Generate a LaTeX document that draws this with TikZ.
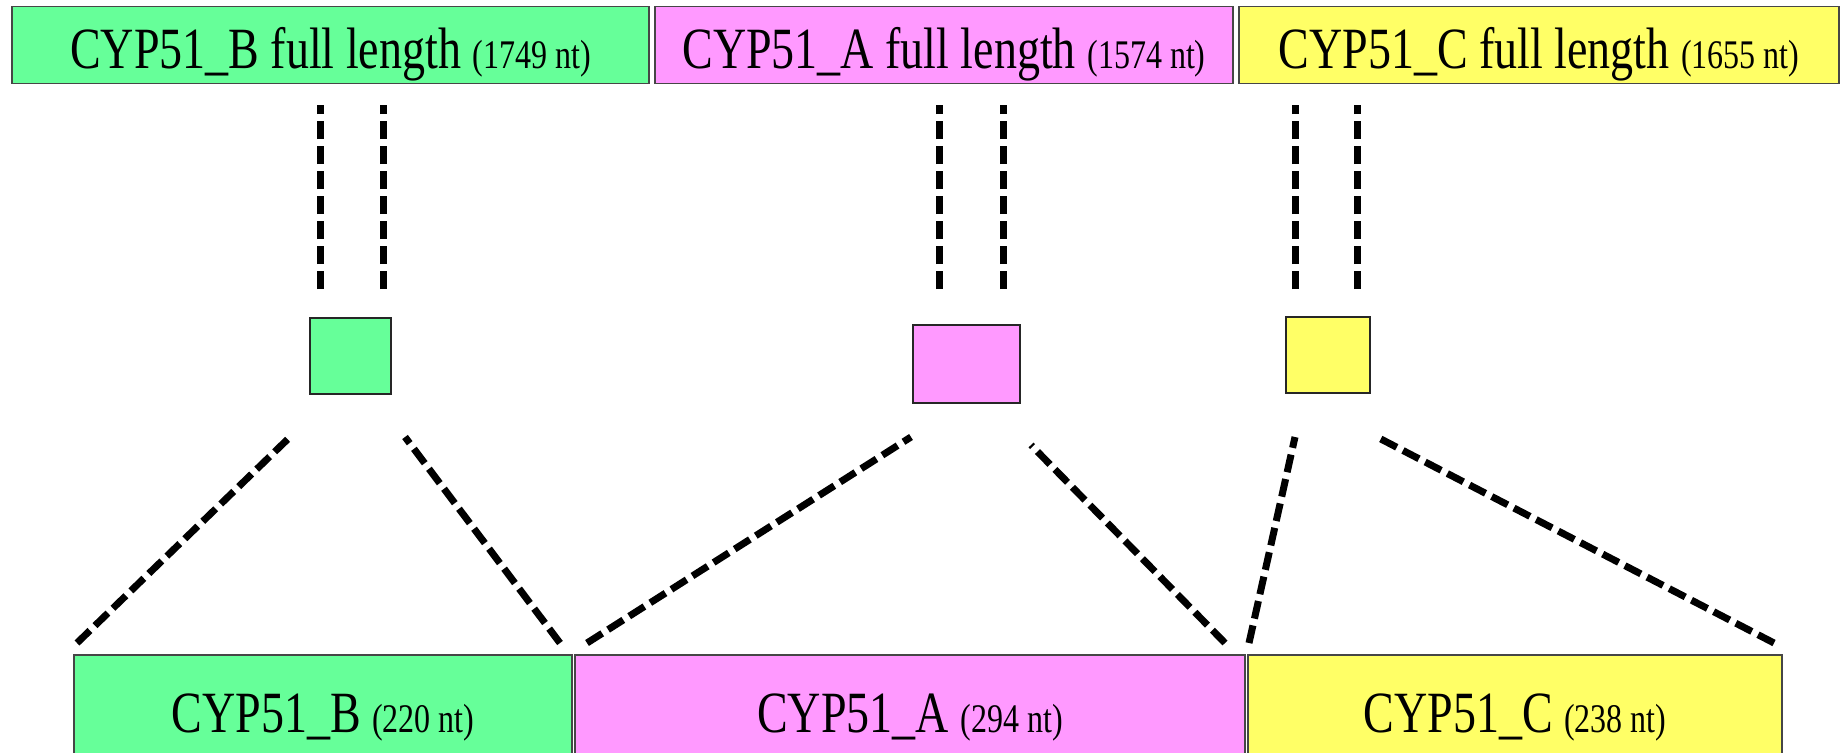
\documentclass[tikz,border=0pt]{standalone}
\usepackage{fontspec}
\setmainfont{Liberation Serif}
\definecolor{cgreen}{RGB}{102,255,153}
\definecolor{cpink}{RGB}{255,153,255}
\definecolor{cyellow}{RGB}{255,255,102}
\definecolor{edgegray}{RGB}{70,70,70}
\tikzset{
  seqbox/.style={draw=edgegray, line width=1.8pt, inner sep=0pt},
  regionbox/.style={draw=black!85, line width=1.4pt, inner sep=0pt},
  seqlabel/.style={inner sep=0pt, anchor=base, font=\fontsize{46}{50}\selectfont},
  linker/.style={line width=7pt, dash pattern=on 18pt off 7pt}
}
% tall, narrow lettering
\newcommand{\tall}[1]{\scalebox{1}[1.27]{#1}}
\newcommand{\ntlen}[1]{{\fontsize{32}{36}\selectfont(#1~nt)}}
\begin{document}
\begin{tikzpicture}[x=1pt,y=-1pt]
\useasboundingbox (0,0) rectangle (1841,752);
\clip (0,0) rectangle (1841,752);

% full-length transcripts
\node[seqbox, fill=cgreen, minimum width=637pt, minimum height=77pt] (fullB) at (330.5,45) {};
\node[seqbox, fill=cpink, minimum width=578pt, minimum height=77pt] (fullA) at (944,45) {};
\node[seqbox, fill=cyellow, minimum width=600pt, minimum height=77pt] (fullC) at (1539,45) {};
\node[seqlabel] (fullBtxt) at (330.5,68) {\tall{CYP51\_B full length \ntlen{1749}}};
\node[seqlabel] (fullAtxt) at (944,68) {\tall{CYP51\_A full length \ntlen{1574}}};
\node[seqlabel] (fullCtxt) at (1539,68) {\tall{CYP51\_C full length \ntlen{1655}}};

% amplified regions
\node[regionbox, fill=cgreen, minimum width=81pt, minimum height=76pt] (regB) at (350.5,356) {};
\node[regionbox, fill=cpink, minimum width=107pt, minimum height=78pt] (regA) at (966.5,364) {};
\node[regionbox, fill=cyellow, minimum width=84pt, minimum height=76pt] (regC) at (1328,355) {};

% amplicons
\node[seqbox, fill=cgreen, minimum width=498pt, minimum height=115pt] (ampB) at (323,712.5) {};
\node[seqbox, fill=cpink, minimum width=670pt, minimum height=115pt] (ampA) at (910,712.5) {};
\node[seqbox, fill=cyellow, minimum width=534pt, minimum height=115pt] (ampC) at (1515,712.5) {};
\node[seqlabel] (ampBtxt) at (323,732) {\tall{CYP51\_B \ntlen{220}}};
\node[seqlabel] (ampAtxt) at (910,732) {\tall{CYP51\_A \ntlen{294}}};
\node[seqlabel] (ampCtxt) at (1515,732) {\tall{CYP51\_C \ntlen{238}}};

% vertical guides from full length to region
\foreach \n/\x in {b1/320, b2/383, a1/939, a2/1003, c1/1295, c2/1357} {
  \coordinate (vt\n) at (\x,105);
  \coordinate (vb\n) at (\x,289);
  \draw[linker] (vb\n) -- (vt\n);
}

% expanding guides from region to amplicon
\coordinate (sBl) at (291,436);  \coordinate (eBl) at (77,643);
\coordinate (sBr) at (405,437);  \coordinate (eBr) at (560,643);
\coordinate (sAl) at (911,437);  \coordinate (eAl) at (587,643);
\coordinate (sAr) at (1031,445); \coordinate (eAr) at (1225,643);
\coordinate (sCl) at (1295,437); \coordinate (eCl) at (1249,643);
\coordinate (sCr) at (1377,437); \coordinate (eCr) at (1774,643);
\foreach \p in {Bl,Br,Al,Ar,Cl,Cr} {
  \draw[linker] (e\p) -- (s\p);
}
\end{tikzpicture}
\end{document}
